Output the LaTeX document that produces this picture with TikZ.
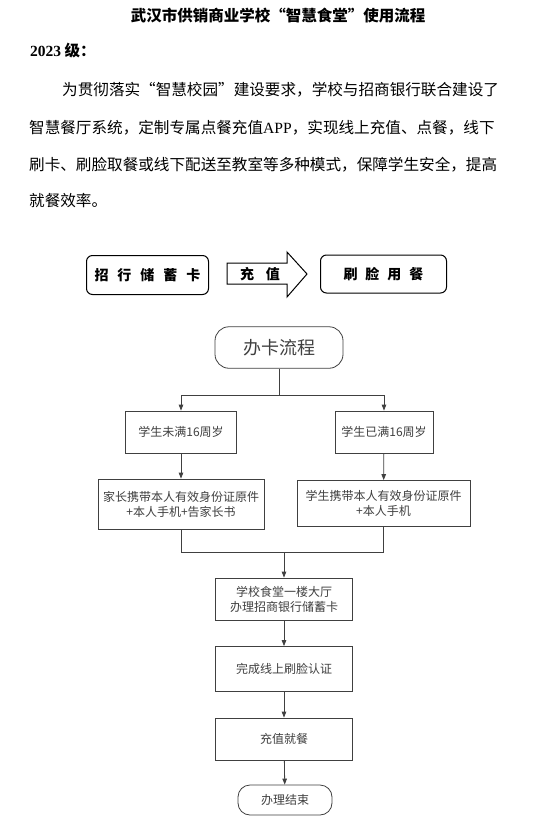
\documentclass[tikz,border=0pt]{standalone}
\usepackage{fontspec}
\setmainfont{Noto Sans CJK SC}
\newfontfamily\numfont{Liberation Serif}
\usetikzlibrary{arrows.meta,positioning}
\begin{document}
\begin{tikzpicture}[x=1pt,y=-1pt,
  toprow/.style={draw=black,line width=1pt,rounded corners=6pt,font=\fontsize{14}{16}\selectfont\bfseries,inner sep=0pt},
  fbox/.style={draw=black!75,line width=0.8pt,fill=white,text=black!75,font=\fontsize{12}{15}\selectfont,align=center,inner sep=0pt},
  stad/.style={fbox,rounded corners=14pt},
  flow/.style={draw=black!75,line width=0.8pt},
  arr/.style={flow,-{Triangle[length=6pt,width=4.5pt]}},
  para/.style={anchor=west,inner sep=0pt,font=\fontsize{15.6}{18}\selectfont}]
\useasboundingbox[fill=white] (0,0) rectangle (556,825);
% title and text
\node[inner sep=0pt,font=\fontsize{15.5}{18}\selectfont\bfseries] (title) at (278,16) {武汉市供销商业学校“智慧食堂”使用流程};
\node[anchor=west,inner sep=0pt,font=\fontsize{15.5}{18}\selectfont\bfseries] (grade) at (30,51) {{\numfont\bfseries 2023} 级：};
\node[para] (l1) at (62,90) {为贯彻落实“智慧校园”建设要求，学校与招商银行联合建设了};
\node[para] (l2) at (29,128) {智慧餐厅系统，定制专属点餐充值{\numfont APP}，实现线上充值、点餐，线下};
\node[para] (l3) at (29,165) {刷卡、刷脸取餐或线下配送至教室等多种模式，保障学生安全，提高};
\node[para] (l4) at (29,201) {就餐效率。};
% top row
\node[toprow,minimum width=122pt,minimum height=39pt] (card) at (147.5,275) {招\hspace{9pt}行\hspace{9pt}储\hspace{9pt}蓄\hspace{9pt}卡};
\draw[line width=1pt] (227,263) -- (287,263) -- (287,252) -- (307,274) -- (287,297) -- (287,284) -- (227,284) -- cycle;
\node[inner sep=0pt,font=\fontsize{14}{16}\selectfont\bfseries] (chg) at (260,274) {充\hspace{12pt}值};
\node[toprow,minimum width=126pt,minimum height=38pt] (face) at (383.5,274) {刷\hspace{8pt}脸\hspace{8pt}用\hspace{8pt}餐};
% flowchart
\node[stad,minimum width=128pt,minimum height=41.5pt,font=\fontsize{18}{20}\selectfont] (start) at (279,347.5) {办卡流程};
\node[fbox,minimum width=111.5pt,minimum height=42pt] (a1) at (181,432) {学生未满16周岁};
\node[fbox,minimum width=98pt,minimum height=42pt] (b1) at (384,432) {学生已满16周岁};
\node[fbox,minimum width=166pt,minimum height=50pt] (a2) at (181,504) {家长携带本人有效身份证原件\\+本人手机+告家长书};
\node[fbox,minimum width=173pt,minimum height=46pt] (b2) at (383.5,503.5) {学生携带本人有效身份证原件\\+本人手机};
\node[fbox,minimum width=137pt,minimum height=42pt] (c1) at (284,599) {学校食堂一楼大厅\\办理招商银行储蓄卡};
\node[fbox,minimum width=137pt,minimum height=45pt] (c2) at (284,669) {完成线上刷脸认证};
\node[fbox,minimum width=137pt,minimum height=42pt] (c3) at (284,739) {充值就餐};
\node[stad,minimum width=94pt,minimum height=30pt,rounded corners=12pt] (end) at (285,800) {办理结束};
\coordinate (s1) at (279,395);
\coordinate (m1) at (284,552.5);
\draw[flow] (start.south) -- (s1);
\draw[arr] (s1) -| (a1.north);
\draw[arr] (s1) -| (b1.north);
\draw[arr] (a1) -- (a2);
\draw[arr] (b1) -- (b2);
\draw[flow] (a2.south) |- (m1);
\draw[flow] (b2.south) |- (m1);
\draw[arr] (m1) -- (c1.north);
\draw[arr] (c1) -- (c2);
\draw[arr] (c2) -- (c3);
\draw[arr] (c3) -- (end);
\end{tikzpicture}
\end{document}
